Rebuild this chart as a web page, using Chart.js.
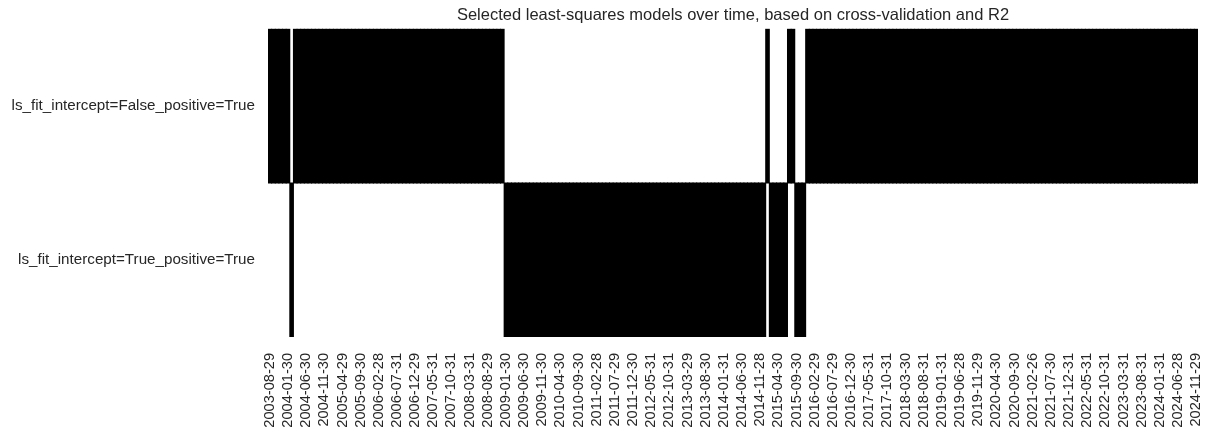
<!DOCTYPE html>
<html>
<head>
<meta charset="utf-8">
<script src="https://cdn.jsdelivr.net/npm/chart.js@4/dist/chart.umd.min.js"></script>
<style>
    html, body { margin: 0; padding: 0; background: #ffffff; }
    #wrap { width: 1213px; height: 439px; position: relative; }
</style>
</head>
<body>
<div id="wrap"><canvas id="modelChart"></canvas></div>
<script>
// Row labels (top to bottom)
const MODEL_NAMES = [
    'ls_fit_intercept=False_positive=True',
    'ls_fit_intercept=True_positive=True'
];

// First and last month of the series
const START_YEAR = 2003, START_MONTH = 8;
const END_YEAR = 2024, END_MONTH = 11;

// Selected model per month: 0 = fit_intercept False, 1 = fit_intercept True
const selected2003 = [0, 0, 0, 0, 0];                        // Aug-Dec
const selected2004 = [0, 1, 0, 0, 0, 0, 0, 0, 0, 0, 0, 0];
const selected2005 = [0, 0, 0, 0, 0, 0, 0, 0, 0, 0, 0, 0];
const selected2006 = [0, 0, 0, 0, 0, 0, 0, 0, 0, 0, 0, 0];
const selected2007 = [0, 0, 0, 0, 0, 0, 0, 0, 0, 0, 0, 0];
const selected2008 = [0, 0, 0, 0, 0, 0, 0, 0, 0, 0, 0, 0];
const selected2009 = [1, 1, 1, 1, 1, 1, 1, 1, 1, 1, 1, 1];
const selected2010 = [1, 1, 1, 1, 1, 1, 1, 1, 1, 1, 1, 1];
const selected2011 = [1, 1, 1, 1, 1, 1, 1, 1, 1, 1, 1, 1];
const selected2012 = [1, 1, 1, 1, 1, 1, 1, 1, 1, 1, 1, 1];
const selected2013 = [1, 1, 1, 1, 1, 1, 1, 1, 1, 1, 1, 1];
const selected2014 = [1, 1, 1, 1, 1, 1, 1, 1, 1, 1, 1, 1];
const selected2015 = [0, 1, 1, 1, 1, 1, 0, 0, 1, 1, 1, 0];
const selected2016 = [0, 0, 0, 0, 0, 0, 0, 0, 0, 0, 0, 0];
const selected2017 = [0, 0, 0, 0, 0, 0, 0, 0, 0, 0, 0, 0];
const selected2018 = [0, 0, 0, 0, 0, 0, 0, 0, 0, 0, 0, 0];
const selected2019 = [0, 0, 0, 0, 0, 0, 0, 0, 0, 0, 0, 0];
const selected2020 = [0, 0, 0, 0, 0, 0, 0, 0, 0, 0, 0, 0];
const selected2021 = [0, 0, 0, 0, 0, 0, 0, 0, 0, 0, 0, 0];
const selected2022 = [0, 0, 0, 0, 0, 0, 0, 0, 0, 0, 0, 0];
const selected2023 = [0, 0, 0, 0, 0, 0, 0, 0, 0, 0, 0, 0];
const selected2024 = [0, 0, 0, 0, 0, 0, 0, 0, 0, 0, 0];     // Jan-Nov

const selected = [].concat(
    selected2003, selected2004, selected2005, selected2006, selected2007,
    selected2008, selected2009, selected2010, selected2011, selected2012,
    selected2013, selected2014, selected2015, selected2016, selected2017,
    selected2018, selected2019, selected2020, selected2021, selected2022,
    selected2023, selected2024
);

const TICK_STEP = 5; // a label every 5 months

// Last business day of each month, as YYYY-MM-DD
function businessMonthEnd(year, month) {
    const d = new Date(Date.UTC(year, month, 0));
    while (d.getUTCDay() === 0 || d.getUTCDay() === 6) {
        d.setUTCDate(d.getUTCDate() - 1);
    }
    return d.toISOString().slice(0, 10);
}

function buildMonthLabels() {
    const labels = [];
    let y = START_YEAR, m = START_MONTH;
    while (y < END_YEAR || (y === END_YEAR && m <= END_MONTH)) {
        labels.push(businessMonthEnd(y, m));
        m++;
        if (m > 12) { m = 1; y++; }
    }
    return labels;
}

const monthLabels = buildMonthLabels();

const TEXT_COLOR = '#262626';
const FONT_FAMILY = "'Liberation Sans', Arial, sans-serif";

document.addEventListener('DOMContentLoaded', function() {
    drawChart();
});

function drawChart() {
    const ctx = document.getElementById('modelChart').getContext('2d');

    // One floating-bar dataset per row: top row spans [1,2], bottom row [0,1]
    const topRow = selected.map(v => v === 0 ? [1, 2] : null);
    const bottomRow = selected.map(v => v === 1 ? [0, 1] : null);

    const barStyle = {
        backgroundColor: '#000000',
        borderWidth: 0,
        inflateAmount: 0.5,
        barPercentage: 1,
        categoryPercentage: 1
    };

    new Chart(ctx, {
        type: 'bar',
        data: {
            labels: monthLabels,
            datasets: [
                Object.assign({ label: MODEL_NAMES[0], data: topRow }, barStyle),
                Object.assign({ label: MODEL_NAMES[1], data: bottomRow }, barStyle)
            ]
        },
        options: {
            responsive: true,
            maintainAspectRatio: false,
            animation: false,
            devicePixelRatio: 1,
            grouped: false,
            layout: {
                padding: { left: 0, right: 15, top: 0, bottom: 0 }
            },
            scales: {
                x: {
                    type: 'category',
                    offset: true,
                    grid: { display: false, drawTicks: false },
                    border: { display: false },
                    afterBuildTicks: function(scale) {
                        scale.ticks = scale.ticks.filter(t => t.value % TICK_STEP === 0);
                    },
                    afterFit: function(scale) {
                        scale.height = 102;
                        // keep the rotated labels from shrinking the plot area
                        scale.paddingLeft = 0;
                        scale.paddingRight = 0;
                    },
                    ticks: {
                        autoSkip: false,
                        minRotation: 90,
                        maxRotation: 90,
                        padding: 16,
                        color: TEXT_COLOR,
                        font: { family: FONT_FAMILY, size: 14.6 }
                    }
                },
                y: {
                    type: 'linear',
                    min: 0,
                    max: 2,
                    grid: { display: false, drawTicks: false },
                    border: { display: false },
                    afterBuildTicks: function(scale) {
                        scale.ticks = [{ value: 0.5 }, { value: 1.5 }];
                    },
                    afterFit: function(scale) {
                        scale.width = 268;
                    },
                    ticks: {
                        padding: 13,
                        color: TEXT_COLOR,
                        font: { family: FONT_FAMILY, size: 15.2 },
                        callback: function(value) {
                            return value > 1 ? MODEL_NAMES[0] : MODEL_NAMES[1];
                        }
                    }
                }
            },
            plugins: {
                legend: { display: false },
                tooltip: { enabled: false },
                title: {
                    display: true,
                    fullSize: false,
                    text: 'Selected least-squares models over time, based on cross-validation and R2',
                    color: TEXT_COLOR,
                    font: { family: FONT_FAMILY, size: 16.5, weight: 'normal', lineHeight: 1.2 },
                    padding: { top: 6, bottom: 3 }
                }
            }
        }
    });
}
</script>
</body>
</html>
